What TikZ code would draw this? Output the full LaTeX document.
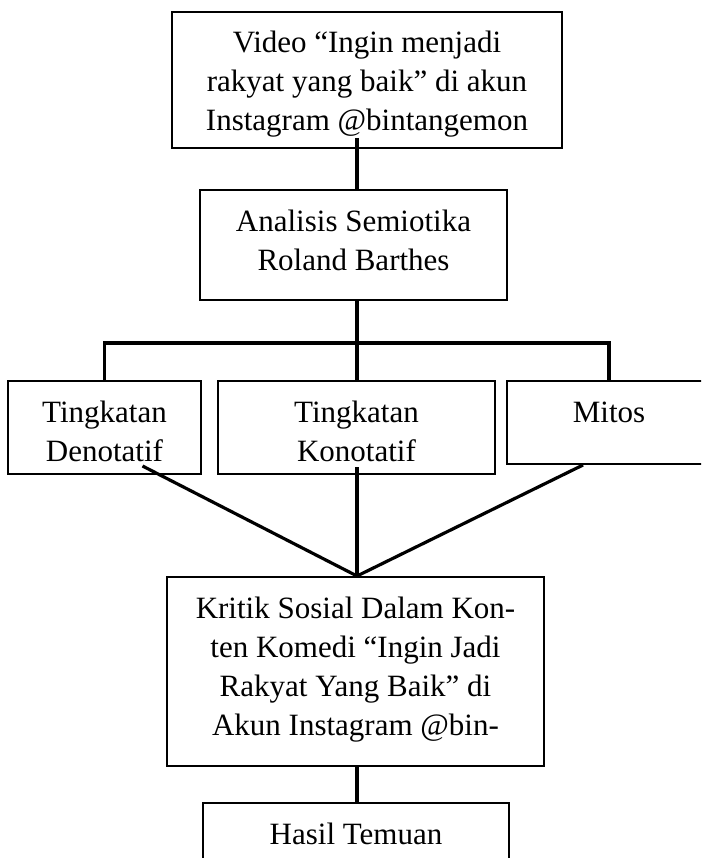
\documentclass[tikz,border=0pt]{standalone}
\usepackage{fontspec}
\setmainfont{Liberation Serif}
\tikzstyle{box}=[draw=black,line width=2pt,inner sep=0pt,font=\fontsize{31}{39}\selectfont]
\tikzstyle{link}=[draw=black,line width=3.2pt]
\newcommand{\boxtext}[3]{\begin{minipage}[c][#2][t]{#1}\centering\rule{0pt}{41pt}#3\end{minipage}}
\usetikzlibrary{positioning,calc}

\begin{document}
\begin{tikzpicture}[x=1pt,y=-1pt]
  \useasboundingbox (0,0) rectangle (701,858);
  \clip (0,0) rectangle (701,858);
  \coordinate (spine) at (357,0);

  % boxes
  \node[box] (video) at (367,80) {\boxtext{390pt}{136pt}{Video “Ingin menjadi\\rakyat yang baik” di akun\\Instagram @bintangemon}};
  \node[box] (analisis) at (353.5,245) {\boxtext{307pt}{110pt}{Analisis Semiotika\\Roland Barthes}};
  \node[box] (deno) at (104.5,427.5) {\boxtext{193pt}{93pt}{Tingkatan\\Denotatif}};
  \node[box] (kono) at (356.5,427.5) {\boxtext{277pt}{93pt}{Tingkatan\\Konotatif}};
  \node[box] (mitos) at (609,422.5) {\boxtext{204pt}{83pt}{Mitos}};
  \node[box] (kritik) at (355.5,671.5) {\boxtext{377pt}{189pt}{Kritik Sosial Dalam Kon-\\ten Komedi “Ingin Jadi\\Rakyat Yang Baik” di\\Akun Instagram @bin-}};
  \node[box] (hasil) at (356,851.5) {\boxtext{306pt}{97pt}{Hasil Temuan}};

  % tree
  \draw[link] ($(video.south -| spine)+(0,-11)$) -- (analisis.north -| spine);
  \draw[link] (analisis.south -| spine) -- ++(0,42) coordinate (fork);
  \draw[link] (deno.north) |- (fork) -| (mitos.north);
  \draw[link] (fork) -- (kono.north -| spine);

  % into the result
  \coordinate (meet) at (kritik.north -| spine);
  \draw[link] ([xshift=38pt,yshift=9pt]deno.south) -- (meet);
  \draw[link] ($(kono.south -| spine)+(0,-8)$) -- (meet);
  \draw[link] ([xshift=-26pt]mitos.south) -- (meet);
  \draw[link] (kritik.south -| spine) -- (hasil.north -| spine);
\end{tikzpicture}
\end{document}
